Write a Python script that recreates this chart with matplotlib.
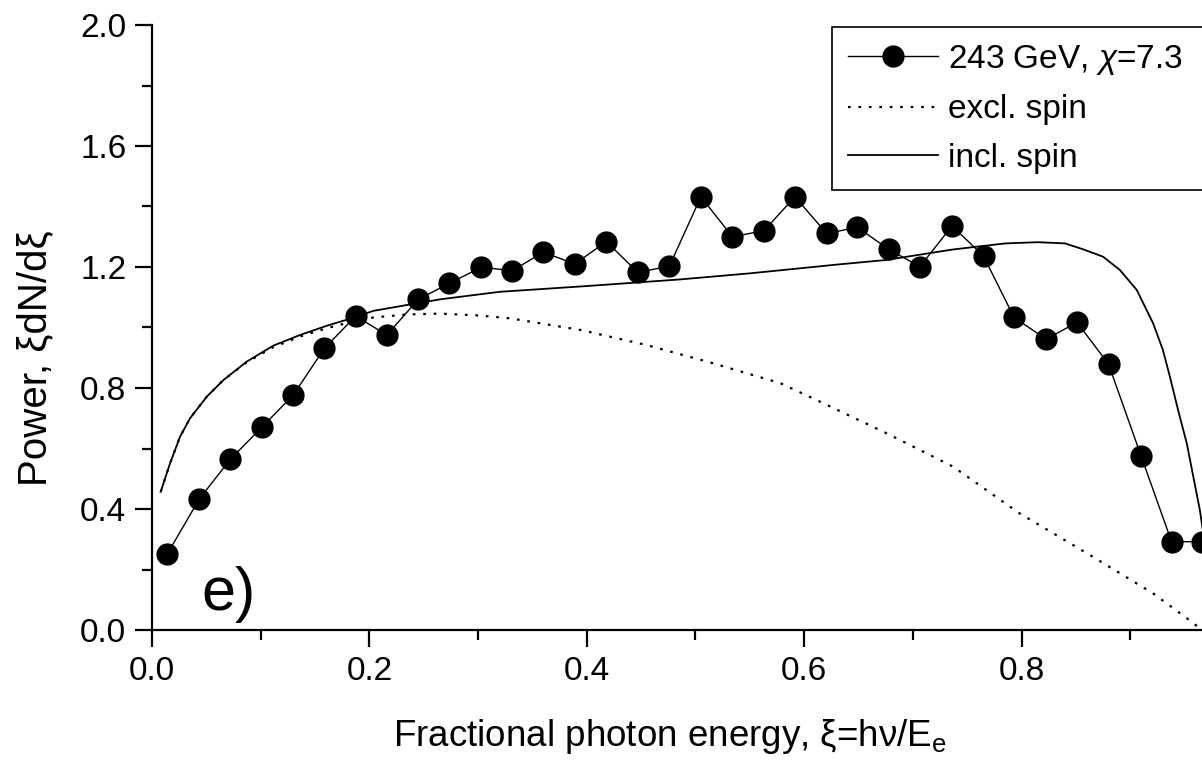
import numpy as np
import matplotlib
matplotlib.use("Agg")
import matplotlib.pyplot as plt
from matplotlib.ticker import MultipleLocator

plt.rcParams['font.family'] = ['Liberation Sans', 'DejaVu Sans']
plt.rcParams['mathtext.fontset'] = 'custom'
plt.rcParams['mathtext.rm'] = 'Liberation Sans'
plt.rcParams['mathtext.it'] = 'Liberation Sans:italic'

# measured points, 243 GeV
xi_data = [0.014, 0.0435, 0.072, 0.101, 0.130, 0.1586, 0.1874, 0.216, 0.245, 0.2735,
           0.303, 0.3315, 0.360, 0.389, 0.418, 0.447, 0.476, 0.505, 0.534, 0.563,
           0.5915, 0.6207, 0.649, 0.678, 0.7065, 0.736, 0.765, 0.793, 0.8225, 0.851,
           0.880, 0.910, 0.938, 0.966]
power_data = [0.251, 0.433, 0.564, 0.670, 0.777, 0.931, 1.038, 0.975, 1.093, 1.146,
              1.199, 1.188, 1.249, 1.210, 1.284, 1.182, 1.203, 1.432, 1.300, 1.320,
              1.432, 1.311, 1.331, 1.258, 1.201, 1.336, 1.236, 1.034, 0.961, 1.017,
              0.879, 0.575, 0.292, 0.292]

# theory, including spin
xi_incl = [0.008, 0.0166, 0.0258, 0.035, 0.0503, 0.0656, 0.0871, 0.1116, 0.136, 0.161,
           0.185, 0.2036, 0.234, 0.265, 0.2956, 0.320, 0.400, 0.486, 0.550, 0.633,
           0.675, 0.737, 0.785, 0.815, 0.840, 0.857, 0.875, 0.8905, 0.906, 0.921,
           0.930, 0.9365, 0.944, 0.952, 0.958, 0.964, 0.970, 0.976]
power_incl = [0.457, 0.551, 0.639, 0.700, 0.771, 0.826, 0.887, 0.940, 0.975, 1.006,
              1.032, 1.055, 1.074, 1.093, 1.107, 1.118, 1.137, 1.159, 1.179, 1.209,
              1.223, 1.258, 1.278, 1.282, 1.278, 1.258, 1.234, 1.190, 1.124, 1.014,
              0.926, 0.837, 0.727, 0.617, 0.507, 0.397, 0.250, 0.080]

# theory, excluding spin
xi_excl = [0.008, 0.0166, 0.0258, 0.035, 0.0503, 0.0656, 0.0871, 0.1116, 0.136, 0.161,
           0.185, 0.2036, 0.234, 0.265, 0.300, 0.330, 0.394, 0.455, 0.516, 0.578,
           0.6145, 0.676, 0.737, 0.798, 0.860, 0.921, 0.952, 0.966]
power_excl = [0.457, 0.551, 0.639, 0.700, 0.771, 0.826, 0.885, 0.935, 0.970, 0.998,
              1.020, 1.033, 1.043, 1.046, 1.040, 1.030, 0.992, 0.942, 0.882, 0.816,
              0.755, 0.650, 0.540, 0.386, 0.254, 0.121, 0.039, 0.0]

W, H = 1202, 767
XMAX = 0.966  # original was cropped here
fig = plt.figure(figsize=(W / 100, H / 100), dpi=100)
ax = fig.add_axes([152 / W, (H - 630) / H, (W - 152) / W, 605 / H])

ax.plot(xi_data, power_data, '-', color='black', lw=1.0, marker='o', ms=15,
        mfc='black', mec='black', label=r'243 GeV, $\chi$=7.3', zorder=3)
ax.plot(xi_excl, power_excl, color='black', lw=1.6, ls=(0, (1.2, 3.5)), label='excl. spin')
ax.plot(xi_incl, power_incl, color='black', lw=1.3, ls='-', label='incl. spin')

ax.set_xlim(0, XMAX)
ax.set_ylim(0, 2.0)
ax.xaxis.set_major_locator(MultipleLocator(0.2))
ax.xaxis.set_minor_locator(MultipleLocator(0.1))
ax.yaxis.set_major_locator(MultipleLocator(0.4))
ax.yaxis.set_minor_locator(MultipleLocator(0.2))
ax.xaxis.set_major_formatter(plt.FuncFormatter(lambda v, p: f"{v:.1f}"))
ax.yaxis.set_major_formatter(plt.FuncFormatter(lambda v, p: f"{v:.1f}"))

for s in ('top', 'right'):
    ax.spines[s].set_visible(False)
for s in ('left', 'bottom'):
    ax.spines[s].set_linewidth(1.6)

ax.tick_params(which='major', direction='out', length=12.5, width=1.6, labelsize=24,
               colors='black')
ax.tick_params(which='minor', direction='out', length=7, width=1.6)
ax.tick_params(axis='x', which='major', pad=6.5)
ax.tick_params(axis='y', which='major', pad=6)

ax.set_xlabel(r'Fractional photon energy, ξ=hν/E$_\mathrm{e}$', fontsize=26.5)
ax.xaxis.set_label_coords(518 / (W - 152), -0.144)
ax.set_ylabel('Power, ξdN/dξ', fontsize=29)
ax.yaxis.set_label_coords(-98 / (W - 152), 0.45)

ax.text(0.0708, 0.119, 'e)', fontsize=44, ha='center', va='center')

leg = ax.legend(loc='upper left', bbox_to_anchor=(832 / W, 0.70, 0.4, (H - 27) / H - 0.70),
                bbox_transform=fig.transFigure, mode='expand', borderaxespad=0,
                fontsize=24, handlelength=2.7, handletextpad=0.3, labelspacing=0.52,
                borderpad=0.48, fancybox=False, framealpha=1, edgecolor='black')
leg.get_frame().set_linewidth(1.2)

fig.savefig('out.png', dpi=100)
